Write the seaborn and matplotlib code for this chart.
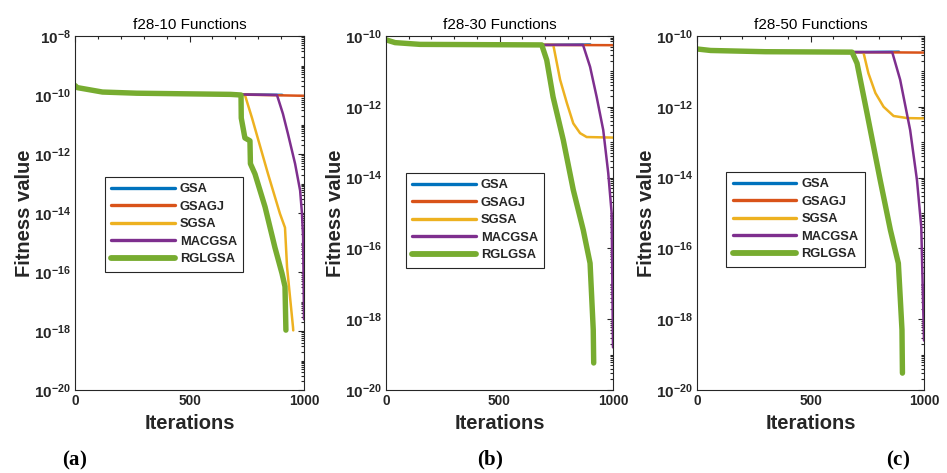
import numpy as np
import pandas as pd
import matplotlib
matplotlib.use("Agg")
import matplotlib.pyplot as plt
import seaborn as sns
from matplotlib.ticker import LogLocator, MultipleLocator, FixedLocator, FuncFormatter, NullFormatter

# ---------------- data ----------------
ALGOS = ["GSA", "GSAGJ", "SGSA", "MACGSA", "RGLGSA"]
COLORS = ["#0072BD", "#D95319", "#EDB120", "#7E2F8E", "#77AC30"]
TITLES = ["f28-10 Functions", "f28-30 Functions", "f28-50 Functions"]
PANEL_LABELS = ["a", "b", "c"]
X_TICKS = [0, 500, 1000]

# panel (a): common early trajectory + per-algorithm tails
A_START_IT = [0, 10, 120, 270, 680]
A_START_VAL = [2.1e-10, 1.78e-10, 1.26e-10, 1.15e-10, 1.05e-10]
A_GSA_IT, A_GSA_VAL = [905], [1.01e-10]
A_GSAGJ_IT, A_GSAGJ_VAL = [1000], [9.4e-11]
A_SGSA_IT = [742, 773, 843, 895, 917, 926, 939, 952, 953]
A_SGSA_VAL = [1.0e-10, 1.66e-11, 2.1e-13, 9.5e-15, 3.2e-15, 1.45e-16, 1.4e-17, 1.35e-18, 1.05e-18]
A_MACGSA_IT = [882, 908, 930, 961, 983, 991, 996, 1000]
A_MACGSA_VAL = [1.0e-10, 2.3e-11, 4.8e-12, 4.7e-13, 5.8e-14, 1.0e-14, 1.6e-15, 2.5e-18]
A_RGLGSA_IT = [725, 726, 742, 764, 766, 786, 830, 873, 904, 917, 921]
A_RGLGSA_VAL = [1.0e-10, 1.66e-11, 3.5e-12, 2.8e-12, 4.7e-13, 2.1e-13, 1.6e-14, 6.8e-16, 8.9e-17, 3.2e-17, 1.07e-18]

# panel (b)
B_START_IT = [0, 40, 150, 686]
B_START_VAL = [7.8e-11, 6.5e-11, 5.8e-11, 5.6e-11]
B_GSA_IT, B_GSA_VAL = [900], [5.75e-11]
B_GSAGJ_IT, B_GSAGJ_VAL = [1000], [5.5e-11]
B_SGSA_IT = [737, 767, 797, 825, 855, 884, 1000]
B_SGSA_VAL = [5.6e-11, 5.8e-12, 1.26e-12, 3.4e-13, 1.8e-13, 1.4e-13, 1.35e-13]
B_MACGSA_IT = [868, 899, 928, 957, 979, 994, 1000]
B_MACGSA_VAL = [5.6e-11, 1.35e-11, 1.9e-12, 2.2e-13, 1.35e-14, 1.0e-15, 1.6e-19]
B_RGLGSA_IT = [708, 736, 781, 825, 869, 899, 906, 913, 915]
B_RGLGSA_VAL = [2.1e-11, 1.9e-12, 1.15e-13, 4.5e-15, 3.3e-16, 3.8e-17, 4.4e-18, 5.0e-19, 5.8e-20]

# panel (c)
C_START_IT = [0, 60, 300, 683]
C_START_VAL = [4.3e-11, 3.9e-11, 3.6e-11, 3.5e-11]
C_GSA_IT, C_GSA_VAL = [890], [3.6e-11]
C_GSAGJ_IT, C_GSAGJ_VAL = [1000], [3.4e-11]
C_SGSA_IT = [733, 755, 786, 822, 866, 926, 1000]
C_SGSA_VAL = [3.5e-11, 8.9e-12, 2.45e-12, 1.0e-12, 5.5e-13, 4.8e-13, 4.7e-13]
C_MACGSA_IT = [860, 895, 939, 969, 988, 1000]
C_MACGSA_VAL = [3.5e-11, 5.8e-12, 2.2e-13, 8.5e-15, 4.0e-16, 2.5e-19]
C_RGLGSA_IT = [705, 749, 807, 852, 887, 895, 903, 905]
C_RGLGSA_VAL = [1.7e-11, 6.6e-13, 8.5e-15, 3.3e-16, 3.8e-17, 4.4e-18, 5.0e-19, 3.0e-20]

Y_LIMITS = [(1e-20, 1e-8), (1e-20, 1e-10), (1e-20, 1e-10)]

PANELS = [
    (A_START_IT, A_START_VAL, [(A_GSA_IT, A_GSA_VAL), (A_GSAGJ_IT, A_GSAGJ_VAL), (A_SGSA_IT, A_SGSA_VAL),
                               (A_MACGSA_IT, A_MACGSA_VAL), (A_RGLGSA_IT, A_RGLGSA_VAL)]),
    (B_START_IT, B_START_VAL, [(B_GSA_IT, B_GSA_VAL), (B_GSAGJ_IT, B_GSAGJ_VAL), (B_SGSA_IT, B_SGSA_VAL),
                               (B_MACGSA_IT, B_MACGSA_VAL), (B_RGLGSA_IT, B_RGLGSA_VAL)]),
    (C_START_IT, C_START_VAL, [(C_GSA_IT, C_GSA_VAL), (C_GSAGJ_IT, C_GSAGJ_VAL), (C_SGSA_IT, C_SGSA_VAL),
                               (C_MACGSA_IT, C_MACGSA_VAL), (C_RGLGSA_IT, C_RGLGSA_VAL)]),
]

# ---------------- style ----------------
sns.set_theme(style="white")
plt.rcParams["font.family"] = ["Liberation Sans", "DejaVu Sans"]
plt.rcParams["font.weight"] = "bold"
plt.rcParams["mathtext.fontset"] = "custom"
plt.rcParams["mathtext.sf"] = "Liberation Sans:bold"
plt.rcParams["mathtext.rm"] = "Liberation Serif"
plt.rcParams["mathtext.bf"] = "Liberation Serif:bold"

DARK = "#262626"
LINE_W = [1.8, 1.8, 1.8, 1.8, 3.9]
LEG_LINE_W = [2.4, 2.4, 2.4, 2.4, 4.2]

fig = plt.figure(figsize=(9.47, 4.73), dpi=100)
W, H = 947.0, 473.0
AX_BOX = [(75, 229), (386, 227), (697, 227)]   # left px, width px
AX_TOP, AX_BOT = 36, 390
LEG_ANCHOR = [(0.131, 0.602), (0.088, 0.613), (0.129, 0.616)]
LABEL_X = [75, 490, 898]

def sci_fmt(v, pos):
    e = int(round(np.log10(v)))
    return r"$\mathsf{10^{%d}}$" % e

for i, (start_it, start_val, tails) in enumerate(PANELS):
    left, width = AX_BOX[i]
    ax = fig.add_axes([left / W, 1 - AX_BOT / H, width / W, (AX_BOT - AX_TOP) / H])
    for k, name in enumerate(ALGOS):
        t_it, t_val = tails[k]
        df = pd.DataFrame({"Iterations": list(start_it) + list(t_it),
                           "Fitness": list(start_val) + list(t_val)})
        sns.lineplot(data=df, x="Iterations", y="Fitness", ax=ax, color=COLORS[k],
                     linewidth=LINE_W[k], label=name, sort=False, estimator=None)
    ax.set_yscale("log")
    ax.set_ylim(*Y_LIMITS[i])
    ax.set_xlim(0, 1000)
    ax.xaxis.set_major_locator(FixedLocator(X_TICKS))
    ax.xaxis.set_minor_locator(MultipleLocator(100))
    ax.yaxis.set_major_locator(LogLocator(base=100.0, numticks=50))
    ax.yaxis.set_major_formatter(FuncFormatter(sci_fmt))
    ax.yaxis.set_minor_locator(LogLocator(base=10.0, subs=np.arange(1, 10), numticks=100))
    ax.yaxis.set_minor_formatter(NullFormatter())
    ax.tick_params(which="both", direction="in", top=True, right=True, color=DARK,
                   labelcolor=DARK, width=0.8)
    ax.tick_params(which="major", length=4, pad=3)
    ax.tick_params(axis="x", which="major", labelsize=9.9)
    ax.tick_params(axis="y", which="major", labelsize=11)
    ax.tick_params(which="minor", length=2)
    for sp in ax.spines.values():
        sp.set_color(DARK)
        sp.set_linewidth(0.8)
        sp.set_visible(True)
    ax.set_title(TITLES[i], fontsize=11, fontweight="normal", pad=5, color="black")
    ax.set_xlabel("Iterations", fontsize=14.5, fontweight="bold", color=DARK)
    ax.set_ylabel("Fitness value", fontsize=14.5, fontweight="bold", color=DARK)
    ax.xaxis.set_label_coords(0.5, -24 / (AX_BOT - AX_TOP))
    ax.yaxis.set_label_coords(-41 / width, 0.5)
    leg = ax.legend(loc="upper left", bbox_to_anchor=LEG_ANCHOR[i], borderaxespad=0,
                    fontsize=9.3, handlelength=4.9, handletextpad=0.4, labelspacing=0.42,
                    borderpad=0.5, frameon=True, fancybox=False, edgecolor=DARK,
                    framealpha=1, facecolor="white")
    leg.get_frame().set_linewidth(0.8)
    for k, ln in enumerate(leg.get_lines()):
        ln.set_linewidth(LEG_LINE_W[k])
    fig.text(LABEL_X[i] / W, 1 - 460 / H,
             r"$\mathrm{(}\mathbf{%s}\mathrm{)}$" % PANEL_LABELS[i],
             ha="center", va="center", fontsize=15, color="black")

fig.savefig("out.png", dpi=100)
